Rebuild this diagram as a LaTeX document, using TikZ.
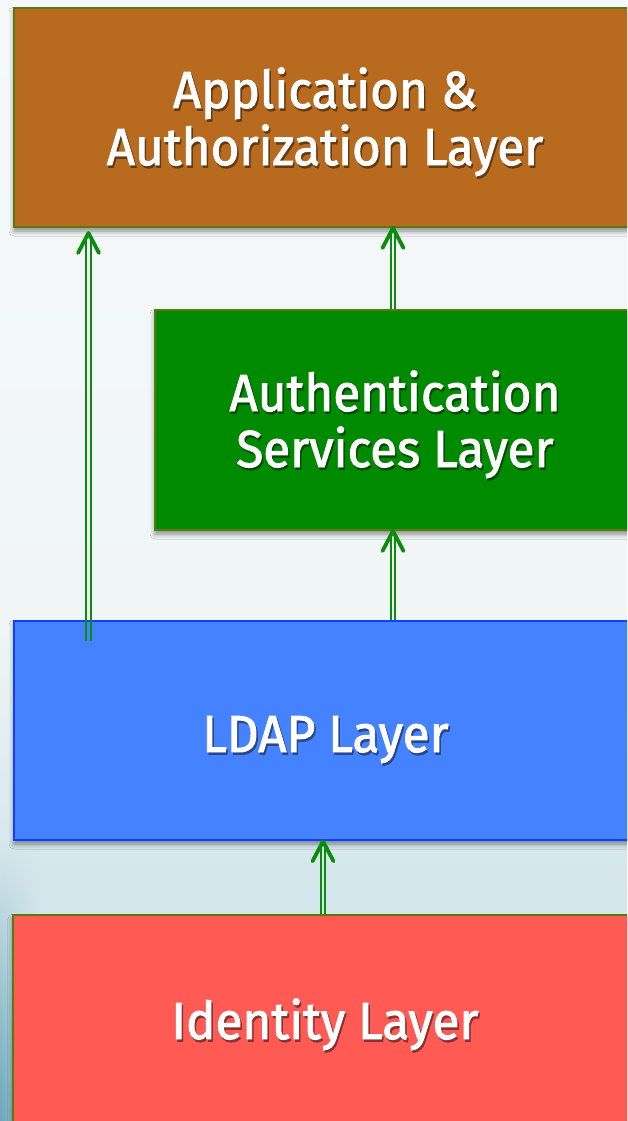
\documentclass[tikz,border=0pt]{standalone}
\usepackage{fontspec}
\setmainfont{Fira Sans}[FakeStretch=0.95, FakeBold=1.8]
\usetikzlibrary{shadows.blur,fadings}

\definecolor{bgtop}{HTML}{F5F9FA}
\definecolor{bgmid}{HTML}{F0F5F5}
\definecolor{bglow}{HTML}{D6E8EC}
\definecolor{bgfoot}{HTML}{C8DEE5}
\definecolor{bgedge}{HTML}{6AA6BA}
\definecolor{appfill}{HTML}{B86A1F}
\definecolor{authfill}{HTML}{008A00}
\definecolor{ldapfill}{HTML}{4582FF}
\definecolor{idfill}{HTML}{FF5A54}
\definecolor{olive}{HTML}{5A7A0C}
\definecolor{ldapedge}{HTML}{1040FF}
\definecolor{arrowgreen}{HTML}{0C8C0C}

\tikzset{
  layer/.style={draw=olive, line width=2pt, inner sep=0pt,
    blur shadow={shadow xshift=0pt, shadow yshift=-4pt,
      shadow blur radius=5pt, shadow opacity=45}},
  caption/.style={text=white, anchor=base, inner sep=0pt,
    font=\fontsize{52}{56}\selectfont},
  rail/.style={draw=arrowgreen, line width=1.8pt},
  chevron/.style={draw=arrowgreen, line width=3.8pt, line cap=round,
    line join=round}
}

% white lettering over a slightly offset darker copy
\newcommand{\shadowed}[2]{%
  \leavevmode\rlap{\kern1.5pt\raisebox{-2.5pt}{\textcolor{#1}{#2}}}#2}
% arrow head: open chevron whose point is at #1
\newcommand{\upchevron}[1]{%
  \draw[chevron] ([shift={(-10.5,20)}]#1) -- (#1) -- ([shift={(10.5,20)}]#1);}
% double shaft from #1 up to just under the point #2
\newcommand{\twinrail}[2]{%
  \draw[rail] ([xshift=-2.3pt]#1) -- ([xshift=-2.3pt,yshift=-3pt]#2);
  \draw[rail] ([xshift=2.3pt]#1) -- ([xshift=2.3pt,yshift=-3pt]#2);}

\begin{document}
\begin{tikzpicture}[x=1pt, y=-1pt]
  \useasboundingbox (0,0) rectangle (627,1121);
  \clip (0,0) rectangle (627,1121);

  % backdrop
  \shade[top color=bgtop, bottom color=bgmid] (0,0) rectangle (627,620);
  \shade[top color=bgmid, bottom color=bglow] (0,620) rectangle (627,850);
  \shade[top color=bglow, bottom color=bgfoot] (0,850) rectangle (627,1121);
  \shade[top color=bglow, bottom color=bgedge, path fading=east]
    (0,840) rectangle (40,1121);

  % layers
  \node[layer, fill=appfill, minimum width=622pt, minimum height=219pt]
    (app) at (325,117.5) {};
  \node[layer, fill=authfill, minimum width=481pt, minimum height=220pt]
    (auth) at (395.5,420) {};
  \node[layer, fill=ldapfill, draw=ldapedge, line width=2.5pt,
    minimum width=622pt, minimum height=219pt]
    (ldap) at (325,730.5) {};
  \node[layer, fill=idfill, minimum width=623pt, minimum height=220pt]
    (ident) at (324.5,1025) {};

  % captions
  \node[caption] (app1) at (325,108)
    {\shadowed{appfill!55!black}{Application \&}};
  \node[caption] (app2) at (325,165)
    {\shadowed{appfill!55!black}{Authorization Layer}};
  \node[caption] (auth1) at (395,411)
    {\shadowed{authfill!55!black}{Authentication}};
  \node[caption] (auth2) at (395,467)
    {\shadowed{authfill!55!black}{Services Layer}};
  \node[caption] (ldap1) at (325.5,752)
    {\shadowed{ldapfill!55!black}{LDAP Layer}};
  \node[caption] (ident1) at (325,1039)
    {\shadowed{idfill!55!black}{Identity Layer}};

  % connector anchor points
  \coordinate (c1) at (88.5,641);
  \coordinate (t1) at (88.5,233);
  \coordinate (t2) at (auth.north -| 393,0);
  \coordinate (h2) at (app.south -| 393,0);
  \coordinate (t3) at (ldap.north -| 393,0);
  \coordinate (h3) at (auth.south -| 393,0);
  \coordinate (t4) at (ident.north -| 323,0);
  \coordinate (h4) at (ldap.south -| 323,0);

  % connectors
  \twinrail{c1}{t1}
  \upchevron{t1}
  \twinrail{t2}{h2}
  \upchevron{h2}
  \twinrail{t3}{h3}
  \upchevron{h3}
  \twinrail{t4}{h4}
  \upchevron{h4}
\end{tikzpicture}
\end{document}
